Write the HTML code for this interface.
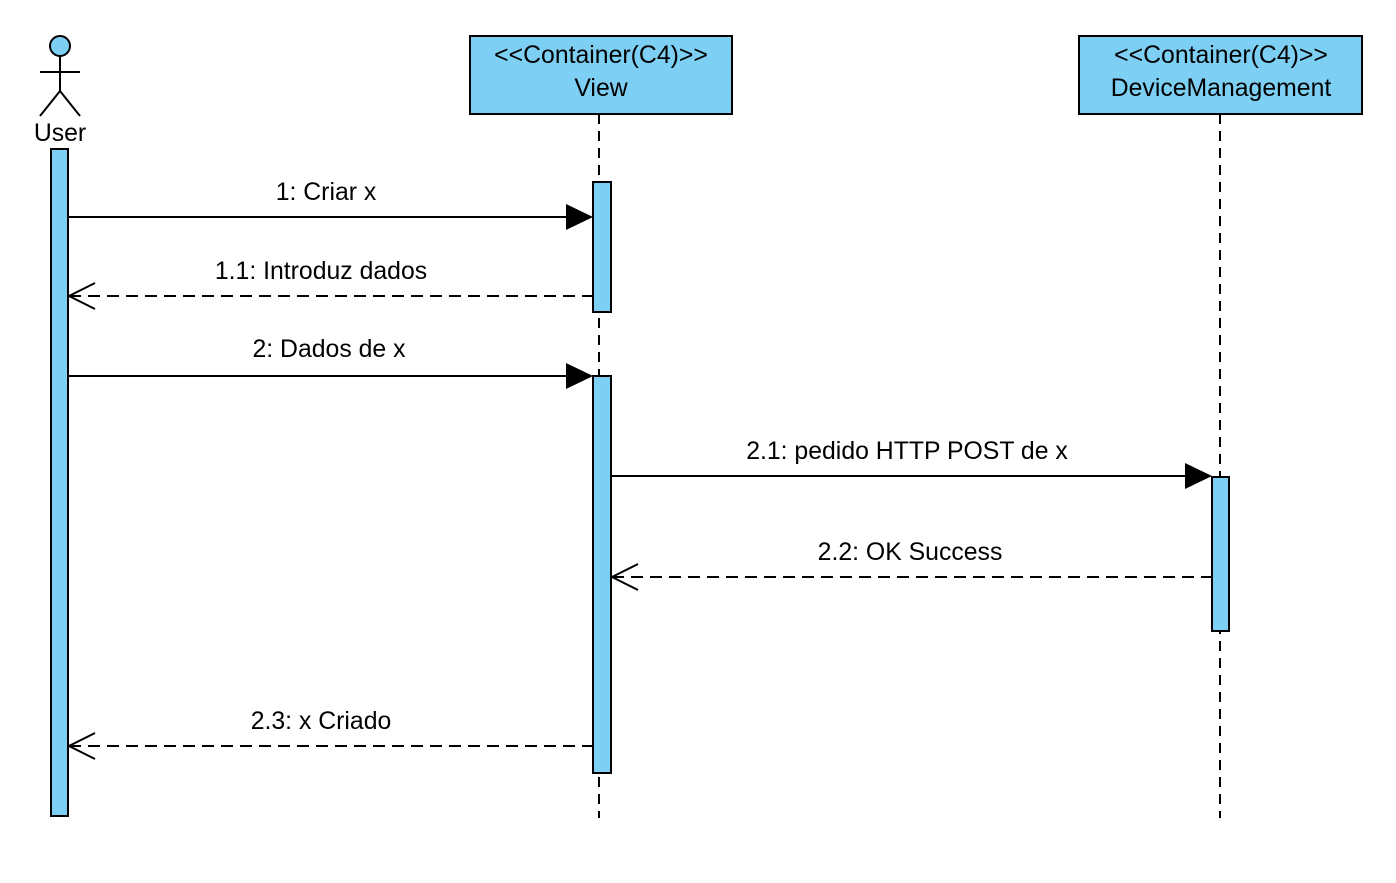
<!DOCTYPE html>
<html><head><style>body{margin:0;background:#fff}svg{display:block}text{font-family:"Liberation Sans",Arial,sans-serif;font-size:24.8px;fill:#000}</style></head><body>
<svg width="1396" height="883" viewBox="0 0 1396 883" xmlns="http://www.w3.org/2000/svg">
<g stroke="#000" stroke-width="2" fill="none">
<circle cx="60" cy="46" r="10" fill="#7dd0f4"/>
<line x1="60" y1="56" x2="60" y2="91"/>
<line x1="40" y1="72" x2="80" y2="72"/>
<line x1="60" y1="91" x2="40" y2="116"/>
<line x1="60" y1="91" x2="80" y2="116"/>
<line x1="599" y1="114" x2="599" y2="818" stroke-dasharray="10,7"/>
<line x1="1220" y1="114" x2="1220" y2="818" stroke-dasharray="10,7"/>
</g>
<text x="60" y="141" text-anchor="middle">User</text>
<g stroke="#000" stroke-width="2" fill="#7dd0f4">
<rect x="470" y="36" width="262" height="78"/>
<rect x="1079" y="36" width="283" height="78"/>
<rect x="51" y="149" width="17" height="667"/>
<rect x="593" y="182" width="18" height="130"/>
<rect x="593" y="376" width="18" height="397"/>
<rect x="1212" y="477" width="17" height="154"/>
</g>
<text x="601" y="63" text-anchor="middle">&lt;&lt;Container(C4)&gt;&gt;</text>
<text x="601" y="96" text-anchor="middle">View</text>
<text x="1221" y="63" text-anchor="middle">&lt;&lt;Container(C4)&gt;&gt;</text>
<text x="1221" y="96" text-anchor="middle">DeviceManagement</text>
<g stroke="#000" stroke-width="2" fill="none">
<line x1="68" y1="217" x2="570" y2="217"/>
<line x1="69" y1="296" x2="593" y2="296" stroke-dasharray="12,7"/>
<polyline points="95,283 69,296 95,309"/>
<line x1="68" y1="376" x2="570" y2="376"/>
<line x1="611" y1="476" x2="1188" y2="476"/>
<line x1="612" y1="577" x2="1212" y2="577" stroke-dasharray="12,7"/>
<polyline points="638,564 612,577 638,590"/>
<line x1="69" y1="746" x2="593" y2="746" stroke-dasharray="12,7"/>
<polyline points="95,733 69,746 95,759"/>
</g>
<g fill="#000">
<polygon points="566,204 593,217 566,230"/>
<polygon points="566,363 593,376 566,389"/>
<polygon points="1185,463 1212,476 1185,489"/>
</g>
<text x="326" y="200" text-anchor="middle">1: Criar x</text>
<text x="321" y="279" text-anchor="middle">1.1: Introduz dados</text>
<text x="329" y="357" text-anchor="middle">2: Dados de x</text>
<text x="907" y="459" text-anchor="middle">2.1: pedido HTTP POST de x</text>
<text x="910" y="560" text-anchor="middle">2.2: OK Success</text>
<text x="321" y="729" text-anchor="middle">2.3: x Criado</text>
</svg>
</body></html>
